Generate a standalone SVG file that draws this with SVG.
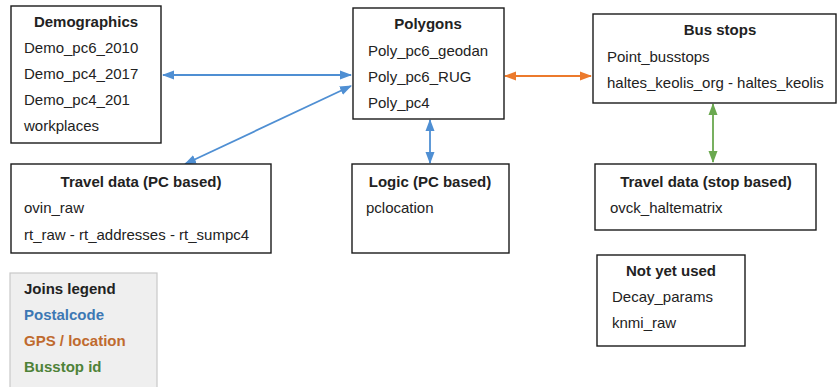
<svg xmlns="http://www.w3.org/2000/svg" width="838" height="387" viewBox="0 0 838 387">
<style>
.box{fill:#fff;stroke:#1a1a1a;stroke-width:1.4}
text{font-family:"Liberation Sans",Arial,sans-serif;font-size:15px;fill:#222}
.t{font-weight:bold;text-anchor:middle}
.lg{font-weight:bold}
.c{fill:none;stroke-width:1.8}
</style>
<defs>
<marker id="ab" viewBox="0 0 12 10" refX="11" refY="5" markerWidth="12" markerHeight="10" markerUnits="userSpaceOnUse" orient="auto-start-reverse"><path d="M0,0.5 L12,5 L0,9.5 z" fill="#4f8fd3"/></marker>
<marker id="ao" viewBox="0 0 12 10" refX="11" refY="5" markerWidth="12" markerHeight="10" markerUnits="userSpaceOnUse" orient="auto-start-reverse"><path d="M0,0.5 L12,5 L0,9.5 z" fill="#ec7a2c"/></marker>
<marker id="ag" viewBox="0 0 12 10" refX="11" refY="5" markerWidth="12" markerHeight="10" markerUnits="userSpaceOnUse" orient="auto-start-reverse"><path d="M0,0.5 L12,5 L0,9.5 z" fill="#6aa84f"/></marker>
</defs>
<rect width="838" height="387" fill="#fff"/>
<g id="connectors">
<line class="c" x1="163" y1="75" x2="351" y2="75" stroke="#4f8fd3" marker-start="url(#ab)" marker-end="url(#ab)"/>
<line class="c" x1="185" y1="164" x2="351" y2="86" stroke="#4f8fd3" marker-start="url(#ab)" marker-end="url(#ab)"/>
<line class="c" x1="430" y1="120" x2="430" y2="163" stroke="#4f8fd3" marker-start="url(#ab)" marker-end="url(#ab)"/>
<line class="c" x1="505" y1="76" x2="591" y2="76" stroke="#ec7a2c" marker-start="url(#ao)" marker-end="url(#ao)"/>
<line class="c" x1="713" y1="104" x2="713" y2="162" stroke="#6aa84f" marker-start="url(#ag)" marker-end="url(#ag)"/>
</g>
<g id="demographics">
<rect class="box" x="11" y="6" width="150" height="137"/>
<text class="t" x="86" y="27">Demographics</text>
<text x="24" y="53">Demo_pc6_2010</text>
<text x="24" y="79">Demo_pc4_2017</text>
<text x="24" y="105">Demo_pc4_201</text>
<text x="24" y="131">workplaces</text>
</g>
<g id="polygons">
<rect class="box" x="353" y="8" width="151" height="111"/>
<text class="t" x="428" y="29">Polygons</text>
<text x="368" y="56">Poly_pc6_geodan</text>
<text x="368" y="82">Poly_pc6_RUG</text>
<text x="368" y="108">Poly_pc4</text>
</g>
<g id="busstops">
<rect class="box" x="593" y="14" width="243" height="89"/>
<text class="t" x="720" y="35">Bus stops</text>
<text x="607" y="62">Point_busstops</text>
<text x="607" y="88">haltes_keolis_org - haltes_keolis</text>
</g>
<g id="travel-pc">
<rect class="box" x="11" y="164" width="260" height="89"/>
<text class="t" x="141" y="187">Travel data (PC based)</text>
<text x="24" y="213">ovin_raw</text>
<text x="24" y="240">rt_raw - rt_addresses - rt_sumpc4</text>
</g>
<g id="logic">
<rect class="box" x="352" y="164" width="157" height="89"/>
<text class="t" x="430" y="187">Logic (PC based)</text>
<text x="366" y="213">pclocation</text>
</g>
<g id="travel-stop">
<rect class="box" x="595" y="164" width="221" height="66"/>
<text class="t" x="706" y="187">Travel data (stop based)</text>
<text x="610" y="213">ovck_haltematrix</text>
</g>
<g id="not-yet-used">
<rect class="box" x="597" y="255" width="148" height="91"/>
<text class="t" x="671" y="276">Not yet used</text>
<text x="612" y="302">Decay_params</text>
<text x="612" y="328">knmi_raw</text>
</g>
<g id="legend">
<rect x="10" y="273" width="147" height="120" fill="#efefef" stroke="#c8c8c8" stroke-width="1.2"/>
<text class="lg" x="24" y="294">Joins legend</text>
<text class="lg" x="24" y="320" style="fill:#3d78b4">Postalcode</text>
<text class="lg" x="24" y="346" style="fill:#bf6a2e">GPS / location</text>
<text class="lg" x="24" y="372" style="fill:#4e8238">Busstop id</text>
</g>
</svg>
